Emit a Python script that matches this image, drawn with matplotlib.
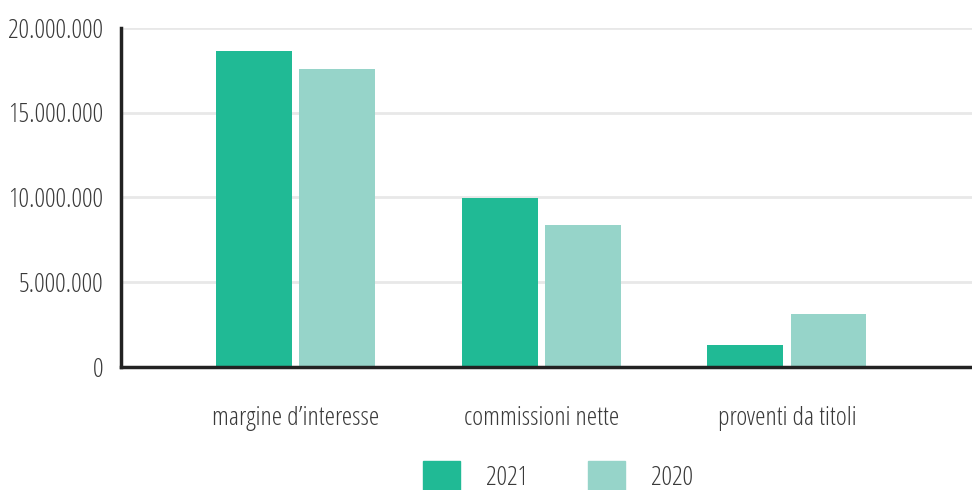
import matplotlib.pyplot as plt
import numpy as np
from matplotlib.patches import Patch
from matplotlib.ticker import FuncFormatter

categories = ["margine d\u2019interesse", "commissioni nette", "proventi da titoli"]
years = ["2021", "2020"]
values_2021 = [18640000, 9970000, 1300000]
values_2020 = [17580000, 8380000, 3130000]
y_ticks = [0, 5000000, 10000000, 15000000, 20000000]

color_2021 = "#20ba95"
color_2020 = "#96d4c9"
text_color = "#3a3a3a"

plt.rcParams['font.family'] = ['Open Sans', 'DejaVu Sans']
plt.rcParams['font.stretch'] = 'condensed'
plt.rcParams['font.weight'] = 300

fig = plt.figure(figsize=(9.72, 4.9), dpi=100)
ax = fig.add_axes([121 / 972, 1 - 367 / 490, 1 - 121 / 972, (367 - 28) / 490])

x = np.arange(len(categories))
w = 0.309
off = 0.169
ax.bar(x - off, values_2021, w, color=color_2021, zorder=3)
ax.bar(x + off, values_2020, w, color=color_2020, zorder=3)

ax.set_xlim(-0.71, 2.753)
ax.set_ylim(0, 20000000)
ax.set_yticks(y_ticks)
ax.yaxis.set_major_formatter(FuncFormatter(lambda v, p: f"{int(v):,}".replace(",", ".")))
ax.set_xticks(x)
ax.set_xticklabels(categories)

ax.grid(axis='y', color="#e8e8e8", linewidth=2, zorder=0)
ax.tick_params(axis='y', length=0, pad=13, labelsize=19, labelcolor=text_color)
ax.tick_params(axis='x', length=0, pad=28, labelsize=19, labelcolor=text_color)

for s in ['top', 'right']:
    ax.spines[s].set_visible(False)
for s in ['left', 'bottom']:
    ax.spines[s].set_color("#222222")
    ax.spines[s].set_linewidth(2.5)
    ax.spines[s].set_zorder(4)

handles = [Patch(color=color_2021), Patch(color=color_2020)]
fig.legend(handles, years, loc='center', bbox_to_anchor=(0.574, 0.029),
           ncol=2, frameon=False, fontsize=19, labelcolor=text_color,
           handlelength=1.4, handleheight=1.35, handletextpad=0.98,
           columnspacing=2.3, borderpad=0)

fig.savefig("out.png", dpi=100)
